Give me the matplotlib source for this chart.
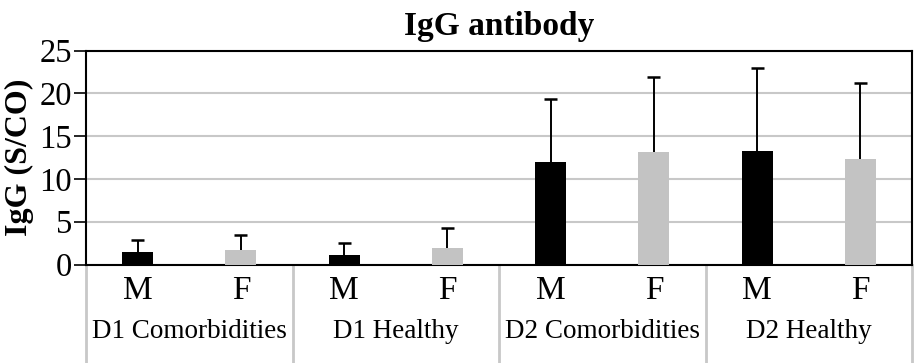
import matplotlib
matplotlib.use("Agg")
import matplotlib.pyplot as plt
import matplotlib.transforms as mtransforms
from matplotlib.lines import Line2D

plt.rcParams['font.family'] = ['Liberation Serif', 'DejaVu Serif']

groups = ["D1 Comorbidities", "D1 Healthy", "D2 Comorbidities", "D2 Healthy"]
sexes = ["M", "F"]
means = [1.5, 1.7, 1.1, 1.9, 12.0, 13.2, 13.3, 12.3]
sd_upper = [1.4, 1.7, 1.4, 2.4, 7.3, 8.7, 9.6, 8.9]
bar_colors = ["#000000", "#c3c3c3"]

fig = plt.figure(figsize=(9.15, 3.63), dpi=100)
ax = fig.add_axes([86/915, (363-264.5)/363, (912-86)/915, (264.5-50.5)/363])

n = len(means)
xs = list(range(n))
cols = [bar_colors[i % 2] for i in range(n)]
ax.bar(xs, means, width=0.3, color=cols, zorder=3)
tops = [m + s for m, s in zip(means, sd_upper)]
ax.vlines(xs, means, tops, color='black', linewidth=1.4, zorder=4)
ax.hlines(tops, [x - 0.063 for x in xs], [x + 0.063 for x in xs],
          color='black', linewidth=1.8, zorder=4)

ax.set_xlim(-0.5, n - 0.5)
ax.set_ylim(0, 25)
ax.set_yticks([0, 5, 10, 15, 20, 25])
ax.tick_params(axis='y', labelsize=23.5, length=9, width=1.2, pad=1)
ax.set_xticks(xs)
ax.set_xticklabels([sexes[i % 2] for i in xs], fontsize=24)
ax.tick_params(axis='x', length=0, pad=8)

ax.yaxis.grid(True, color='#c8c8c8', linewidth=1.5, zorder=0)
ax.set_axisbelow(True)
for s in ax.spines.values():
    s.set_color('black')
    s.set_linewidth(1.5)

ax.set_ylabel("IgG (S/CO)", fontsize=23, fontweight='bold', labelpad=4)
ax.set_title("IgG antibody", fontsize=24, fontweight='bold', pad=11)

trans = mtransforms.blended_transform_factory(ax.transData, ax.transAxes)
ybot = -(362 - 264.5) / (264.5 - 50.5)
for k in range(len(groups) + 1):
    xb = 2 * k - 0.5
    ax.add_line(Line2D([xb, xb], [0, ybot], transform=trans, color='#c8c8c8',
                       linewidth=2, clip_on=False))
for k, g in enumerate(groups):
    ax.text(2 * k + 0.5, -(331 - 264.5) / (264.5 - 50.5), g, transform=trans,
            ha='center', va='center', fontsize=19.5)

fig.savefig("out.png", dpi=100)
